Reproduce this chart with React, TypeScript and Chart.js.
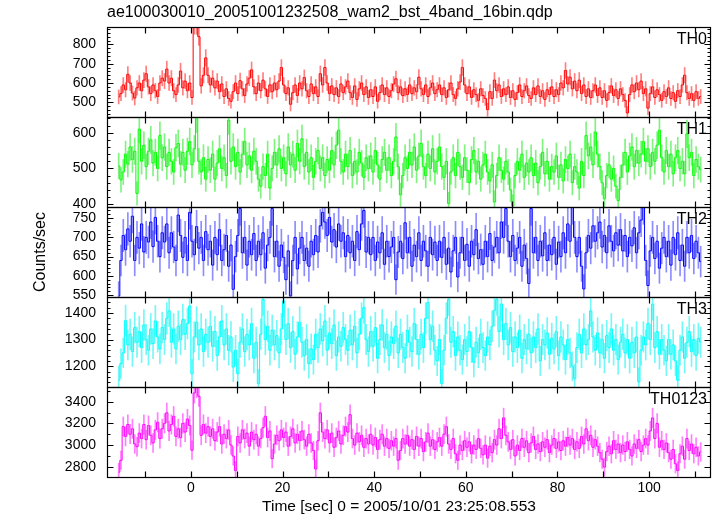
import React, { useEffect, useRef } from "react";
import { Chart, registerables } from "chart.js";

Chart.register(...registerables);

const TITLE = "ae100030010_20051001232508_wam2_bst_4band_16bin.qdp";
const X_LABEL = "Time [sec] 0 = 2005/10/01 23:25:08.553";
const Y_LABEL = "Counts/sec";
const FONT = '"Liberation Sans", Arial, Helvetica, sans-serif';

const BIN_START = -16;
const BIN_SIZE = 0.5;
const EXPOSURE = 0.4;

const X_MIN = -18.3;
const X_MAX = 113.5;
const xTickLabels = [0, 20, 40, 60, 80, 100];
const xTickMarks = [-10, 0, 10, 20, 30, 40, 50, 60, 70, 80, 90, 100, 110];

const th0 = [
  528, 545, 590, 565, 645, 600, 548, 522, 575, 600,
  560, 615, 648, 580, 545, 590, 560, 530, 600, 625,
  610, 672, 600, 625, 560, 540, 590, 662, 575, 610,
  560, 600, 525, 900, 900, 840, 585, 640, 730, 640,
  590, 625, 575, 610, 555, 595, 530, 570, 520, 505,
  555, 600, 545, 612, 570, 535, 595, 625, 668, 580,
  545, 600, 560, 615, 570, 530, 590, 555, 600, 565,
  610, 680, 590, 545, 575, 490, 550, 590, 535, 600,
  570, 628, 560, 530, 595, 545, 580, 530, 648, 590,
  680, 600, 545, 585, 540, 575, 530, 595, 550, 580,
  610, 550, 525, 585, 515, 570, 600, 540, 580, 525,
  565, 530, 580, 505, 550, 590, 540, 575, 530, 560,
  595, 622, 550, 580, 535, 570, 540, 590, 545, 575,
  555, 630, 570, 540, 590, 530, 575, 600, 545, 565,
  590, 540, 575, 525, 565, 600, 540, 520, 570, 605,
  680, 590, 545, 580, 525, 565, 540, 510, 570, 535,
  520, 462, 555, 520, 615, 560, 590, 530, 570, 540,
  580, 525, 560, 515, 550, 590, 530, 560, 585, 535,
  520, 575, 540, 585, 530, 560, 515, 565, 540, 580,
  530, 565, 540, 600, 575, 665, 595, 630, 570, 610,
  560, 615, 545, 590, 530, 570, 525, 560, 590, 535,
  575, 525, 560, 510, 550, 585, 535, 565, 520, 570,
  540, 510, 445, 540, 590, 555, 600, 565, 610, 545,
  570, 470, 545, 580, 525, 565, 540, 510, 555, 530,
  575, 520, 550, 505, 560, 530, 590, 640, 550, 520,
  545, 510, 555, 520, 530,
];

const th1 = [
  507, 468, 490, 540, 512, 560, 525, 548, 430, 610,
  520, 565, 505, 548, 580, 515, 545, 500, 592, 530,
  560, 505, 545, 520, 490, 558, 570, 512, 545, 495,
  548, 575, 510, 555, 640, 520, 490, 530, 470, 525,
  495, 540, 470, 515, 555, 500, 530, 480, 635, 520,
  560, 505, 545, 490, 540, 575, 510, 535, 495, 548,
  520, 470, 450, 505, 480, 540, 445, 500, 545, 510,
  555, 500, 530, 485, 560, 510, 540, 495, 570, 520,
  583, 505, 545, 490, 530, 475, 520, 550, 500, 530,
  480, 525, 495, 550, 510, 565, 607, 520, 490, 540,
  505, 550, 480, 520, 490, 545, 515, 475, 530, 500,
  535, 490, 550, 510, 470, 525, 545, 495, 530, 480,
  520, 588, 505, 426, 480, 530, 500, 545, 510, 560,
  495, 535, 570, 505, 480, 540, 500, 555, 490, 520,
  560, 505, 475, 520, 402, 490, 530, 480, 545, 505,
  475, 530, 495, 460, 525, 550, 490, 520, 470, 510,
  540, 490, 465, 510, 406, 480, 530, 495, 470, 520,
  490, 440, 395, 480, 520, 495, 540, 475, 515, 490,
  530, 480, 515, 460, 505, 545, 485, 520, 470, 505,
  490, 535, 475, 510, 465, 525, 500, 540, 460, 505,
  490, 445, 520, 480, 592, 535, 560, 510, 602, 540,
  505, 460, 415, 480, 510, 470, 500, 450, 410, 475,
  510, 545, 490, 535, 560, 505, 550, 515, 540, 575,
  520, 555, 505, 545, 520, 565, 607, 530, 490, 550,
  505, 540, 485, 530, 550, 500, 520, 485, 597, 530,
  545, 480, 525, 505, 497,
];

const th2 = [
  548, 640, 705, 668, 722, 690, 755, 640, 700, 672,
  735, 662, 700, 688, 740, 676, 752, 690, 650, 712,
  688, 735, 660, 712, 675, 640, 758, 705, 648, 700,
  640, 765, 690, 655, 728, 672, 700, 640, 715, 668,
  690, 628, 700, 655, 720, 640, 668, 705, 625, 680,
  565, 650, 705, 775, 660, 700, 628, 690, 655, 710,
  640, 690, 655, 712, 620, 680, 700, 775, 650, 690,
  625, 680, 648, 590, 665, 548, 640, 700, 618, 672,
  700, 640, 672, 625, 690, 655, 705, 662, 730, 765,
  740, 705, 752, 688, 720, 675, 735, 690, 712, 650,
  705, 660, 690, 640, 715, 668, 735, 770, 662, 700,
  655, 700, 640, 688, 660, 712, 630, 690, 650, 675,
  700, 590, 662, 690, 645, 738, 660, 700, 625, 680,
  650, 712, 640, 690, 665, 625, 700, 655, 688, 640,
  690, 648, 700, 630, 672, 610, 665, 700, 597, 660,
  700, 640, 682, 625, 690, 655, 720, 645, 668, 630,
  690, 650, 710, 640, 675, 700, 660, 740, 700, 775,
  690, 650, 705, 640, 672, 700, 625, 680, 645, 580,
  775, 660, 700, 640, 690, 652, 712, 640, 680, 655,
  700, 630, 688, 650, 712, 660, 735, 690, 778, 700,
  650, 700, 625, 566, 660, 705, 672, 730, 690, 712,
  740, 675, 705, 660, 730, 690, 665, 712, 680, 720,
  665, 705, 650, 700, 678, 725, 660, 712, 745, 778,
  640, 575, 665, 700, 645, 690, 620, 672, 700, 650,
  690, 628, 700, 655, 712, 640, 680, 625, 700, 660,
  705, 645, 690, 660, 637,
];

const th3 = [
  1147, 1210, 1250, 1371, 1280, 1320, 1255, 1345, 1290, 1330,
  1270, 1355, 1300, 1260, 1340, 1285, 1370, 1310, 1265, 1345,
  1300, 1380, 1408, 1290, 1340, 1265, 1350, 1300, 1375, 1320,
  1360, 1426, 1172, 1310, 1365, 1280, 1340, 1255, 1320, 1290,
  1350, 1275, 1330, 1240, 1310, 1370, 1280, 1340, 1260, 1310,
  1197, 1260, 1172, 1290, 1340, 1255, 1320, 1280, 1360, 1230,
  1290, 1135, 1320, 1451, 1300, 1350, 1260, 1335, 1280, 1315,
  1250, 1340, 1445, 1300, 1360, 1270, 1330, 1245, 1310, 1365,
  1290, 1240, 1300, 1210, 1265, 1225, 1320, 1270, 1340, 1295,
  1370, 1260, 1325, 1285, 1355, 1240, 1310, 1275, 1345, 1300,
  1260, 1335, 1280, 1350, 1250, 1320, 1380, 1420, 1300, 1255,
  1330, 1275, 1345, 1230, 1300, 1355, 1270, 1320, 1240, 1310,
  1285, 1350, 1250, 1320, 1270, 1230, 1335, 1290, 1255, 1360,
  1300, 1245, 1320, 1270, 1380, 1439, 1300, 1350, 1260, 1220,
  1300, 1135, 1260, 1380, 1451, 1290, 1330, 1240, 1310, 1260,
  1225, 1300, 1255, 1330, 1270, 1215, 1290, 1250, 1320, 1270,
  1240, 1310, 1280, 1350, 1410, 1451, 1330, 1433, 1300, 1360,
  1280, 1345, 1255, 1310, 1270, 1335, 1230, 1300, 1265, 1320,
  1250, 1310, 1270, 1340, 1220, 1300, 1280, 1325, 1245, 1305,
  1265, 1330, 1240, 1310, 1280, 1225, 1300, 1250, 1200, 1153,
  1270, 1320, 1250, 1340, 1280, 1300, 1408, 1310, 1260, 1325,
  1250, 1300, 1230, 1315, 1270, 1340, 1260, 1300, 1225, 1290,
  1320, 1250, 1300, 1230, 1290, 1250, 1310, 1141, 1260, 1310,
  1280, 1360, 1300, 1433, 1270, 1330, 1245, 1300, 1260, 1220,
  1300, 1245, 1280, 1220, 1147, 1260, 1310, 1230, 1290, 1330,
  1255, 1300, 1240, 1305, 1290,
];

const th0123 = [
  2750, 2860, 3170, 3080, 3190, 3100, 3150, 3010, 2985, 3110,
  3060, 3190, 3050, 3180, 3090, 3020, 3140, 3210, 3060, 3150,
  3200, 3297, 3130, 3190, 3265, 3080, 3150, 3070, 3200, 3120,
  3240, 3180, 2953, 3480, 3530, 3450, 3090, 3190, 3110, 3170,
  3080, 3150, 3040, 3120, 3170, 3010, 3100, 3060, 3140, 3000,
  2900, 2765, 3080, 3020, 3140, 3060, 3110, 2990, 3120, 3050,
  3100, 2990, 3060, 3160, 3265, 3070, 3130, 2875, 3010, 3090,
  3040, 3140, 3070, 3120, 2990, 3080, 3150, 3020, 3100, 3040,
  3130, 3050, 2990, 3100, 3020, 2950, 2780, 3040, 3297, 3120,
  3060, 3140, 3020, 3110, 2980, 3070, 3130, 3010, 3090, 3170,
  3120, 3280, 3060, 3000, 3110, 3030, 3090, 2980, 3060, 3010,
  3100, 3000, 3070, 2960, 3050, 3100, 2990, 3060, 2970, 3040,
  2990, 3060, 2860, 2950, 3060, 3010, 3090, 2990, 3050, 2960,
  3080, 2990, 3060, 2940, 3030, 3110, 2990, 3050, 2960, 3030,
  3070, 2990, 3100, 3170, 3010, 2960, 3060, 2920, 2860, 3000,
  2950, 3040, 2980, 3030, 2920, 3000, 2960, 3060, 2970, 2910,
  3000, 2880, 2990, 2930, 3050, 3000, 3150, 3060, 3250, 3090,
  3030, 2960, 3050, 2900, 3000, 2950, 3060, 2980, 3040, 2930,
  3020, 3080, 2960, 3010, 2940, 3030, 2980, 3050, 2930, 3000,
  3060, 2970, 3030, 2950, 3040, 2990, 3070, 3000, 3060, 2960,
  3030, 2970, 3080, 3010, 3150, 3040, 3090, 2980, 3050, 2990,
  2930, 2870, 2797, 2940, 2990, 2920, 3040, 2960, 3010, 2930,
  3000, 2940, 3030, 2960, 2900, 3010, 2970, 3050, 2940, 3000,
  3060, 3000, 3130, 3250, 3060, 3200, 2980, 3040, 2960, 3020,
  2930, 2870, 2960, 2828, 2765, 2920, 2990, 2870, 3060, 2950,
  3010, 2920, 2980, 2900, 2937,
];

const th0Ticks = [500, 600, 700, 800];
const th1Ticks = [400, 500, 600];
const th2Ticks = [550, 600, 650, 700, 750];
const th3Ticks = [1200, 1300, 1400];
const th0123Ticks = [2800, 3000, 3200, 3400];

const PLOT_LEFT = 107;
const PLOT_RIGHT = 711;
const PLOT_TOP = 27;
const PANEL_H = 90;
const W = 717;
const H = 516;

type PanelDef = {
  name: string;
  values: number[];
  color: string;
  errColor: string;
  min: number;
  max: number;
  ticks: number[];
  minor: number;
};

const panels: PanelDef[] = [
  { name: "TH0", values: th0, color: "#ff0000", errColor: "rgba(255,0,0,0.5)", min: 424, max: 890, ticks: th0Ticks, minor: 20 },
  { name: "TH1", values: th1, color: "#00ff00", errColor: "rgba(0,230,0,0.5)", min: 392, max: 644, ticks: th1Ticks, minor: 20 },
  { name: "TH2", values: th2, color: "#0000ff", errColor: "rgba(0,0,255,0.45)", min: 545, max: 779, ticks: th2Ticks, minor: 10 },
  { name: "TH3", values: th3, color: "#00ffff", errColor: "rgba(0,240,240,0.55)", min: 1122, max: 1460, ticks: th3Ticks, minor: 20 },
  { name: "TH0123", values: th0123, color: "#ff00ff", errColor: "rgba(255,0,255,0.5)", min: 2706, max: 3535, ticks: th0123Ticks, minor: 100 },
];

function makeOverlay(p: PanelDef, idx: number) {
  return {
    id: "qdpOverlay" + idx,
    afterDatasetsDraw(chart: any) {
      const ctx = chart.ctx as CanvasRenderingContext2D;
      const a = chart.chartArea;
      const xs = chart.scales.x;
      const ys = chart.scales.y;
      const L = Math.round(a.left) + 0.5;
      const R = Math.round(a.right) - 0.5;
      const T = Math.round(a.top) + 0.5;
      const B = Math.round(a.bottom) + 0.5;
      ctx.save();
      ctx.strokeStyle = "#000";
      ctx.lineWidth = 1.2;
      ctx.strokeRect(L, T, R - L, B - T);
      ctx.beginPath();
      const start = Math.ceil(p.min / p.minor) * p.minor;
      for (let v = start; v < p.max; v += p.minor) {
        const y = Math.round(ys.getPixelForValue(v)) + 0.5;
        const len = p.ticks.includes(v) ? 6 : 3;
        ctx.moveTo(L, y);
        ctx.lineTo(L + len, y);
        ctx.moveTo(R, y);
        ctx.lineTo(R - len, y);
      }
      for (const v of xTickMarks) {
        const x = Math.round(xs.getPixelForValue(v)) + 0.5;
        ctx.moveTo(x, T);
        ctx.lineTo(x, T + 6);
        ctx.moveTo(x, B);
        ctx.lineTo(x, B - 6);
      }
      ctx.stroke();

      ctx.fillStyle = "#000";
      ctx.font = `14px ${FONT}`;
      ctx.textAlign = "right";
      ctx.textBaseline = "middle";
      for (const v of p.ticks) ctx.fillText(String(v), 96, ys.getPixelForValue(v));

      ctx.font = `16px ${FONT}`;
      ctx.textBaseline = "top";
      ctx.fillText(p.name, 707, a.top + 5);

      if (idx === 0) {
        ctx.font = `16px ${FONT}`;
        ctx.textAlign = "left";
        ctx.textBaseline = "middle";
        ctx.fillText(TITLE, PLOT_LEFT, 13);
      }
      if (idx === 2) {
        ctx.save();
        ctx.font = `16px ${FONT}`;
        ctx.translate(41, PLOT_TOP + (PANEL_H * panels.length) / 2);
        ctx.rotate(-Math.PI / 2);
        ctx.textAlign = "center";
        ctx.textBaseline = "middle";
        ctx.fillText(Y_LABEL, 0, 0);
        ctx.restore();
      }
      if (idx === panels.length - 1) {
        ctx.font = `14px ${FONT}`;
        ctx.textAlign = "center";
        ctx.textBaseline = "middle";
        for (const v of xTickLabels) ctx.fillText(String(v), xs.getPixelForValue(v), 488);
        ctx.font = `15.5px ${FONT}`;
        ctx.fillText(X_LABEL, 399, 507);
      }
      ctx.restore();
    },
  };
}

function Panel({ p, idx }: { p: PanelDef; idx: number }) {
  const ref = useRef<HTMLCanvasElement | null>(null);
  useEffect(() => {
    if (!ref.current) return;
    const times = p.values.map((_, i) => BIN_START + BIN_SIZE * (i + 0.5));
    const errs = p.values.map((v) => Math.sqrt(v / EXPOSURE));
    const top = PLOT_TOP + PANEL_H * idx;
    const chart = new Chart(ref.current, {
      type: "bar",
      data: {
        datasets: [
          {
            type: "line",
            data: p.values.map((v, i) => ({ x: times[i], y: v })),
            borderColor: p.color,
            borderWidth: 1,
            pointRadius: 0,
            stepped: "middle",
            fill: false,
            order: 0,
            clip: 0,
          } as any,
          {
            type: "bar",
            data: p.values.map((v, i) => ({ x: times[i], y: [v - errs[i], v + errs[i]] })),
            backgroundColor: p.errColor,
            borderWidth: 0,
            barThickness: 1,
            order: 1,
            clip: 0,
          } as any,
        ],
      },
      options: {
        responsive: false,
        animation: false,
        devicePixelRatio: 1,
        events: [],
        layout: {
          padding: {
            left: PLOT_LEFT,
            right: W - PLOT_RIGHT,
            top: top,
            bottom: H - (top + PANEL_H),
          },
        },
        plugins: { legend: { display: false }, tooltip: { enabled: false } },
        scales: {
          x: { type: "linear", min: X_MIN, max: X_MAX, display: false, offset: false },
          y: { type: "linear", min: p.min, max: p.max, display: false, offset: false },
        },
      },
      plugins: [makeOverlay(p, idx)],
    });
    return () => chart.destroy();
  }, [p, idx]);
  return (
    <canvas
      ref={ref}
      width={W}
      height={H}
      style={{ position: "absolute", left: 0, top: 0, width: W, height: H }}
    />
  );
}

export default function App() {
  return (
    <div style={{ position: "absolute", left: 0, top: 0, width: W, height: H, background: "#fff" }}>
      {panels.map((p, i) => (
        <Panel key={p.name} p={p} idx={i} />
      ))}
    </div>
  );
}
